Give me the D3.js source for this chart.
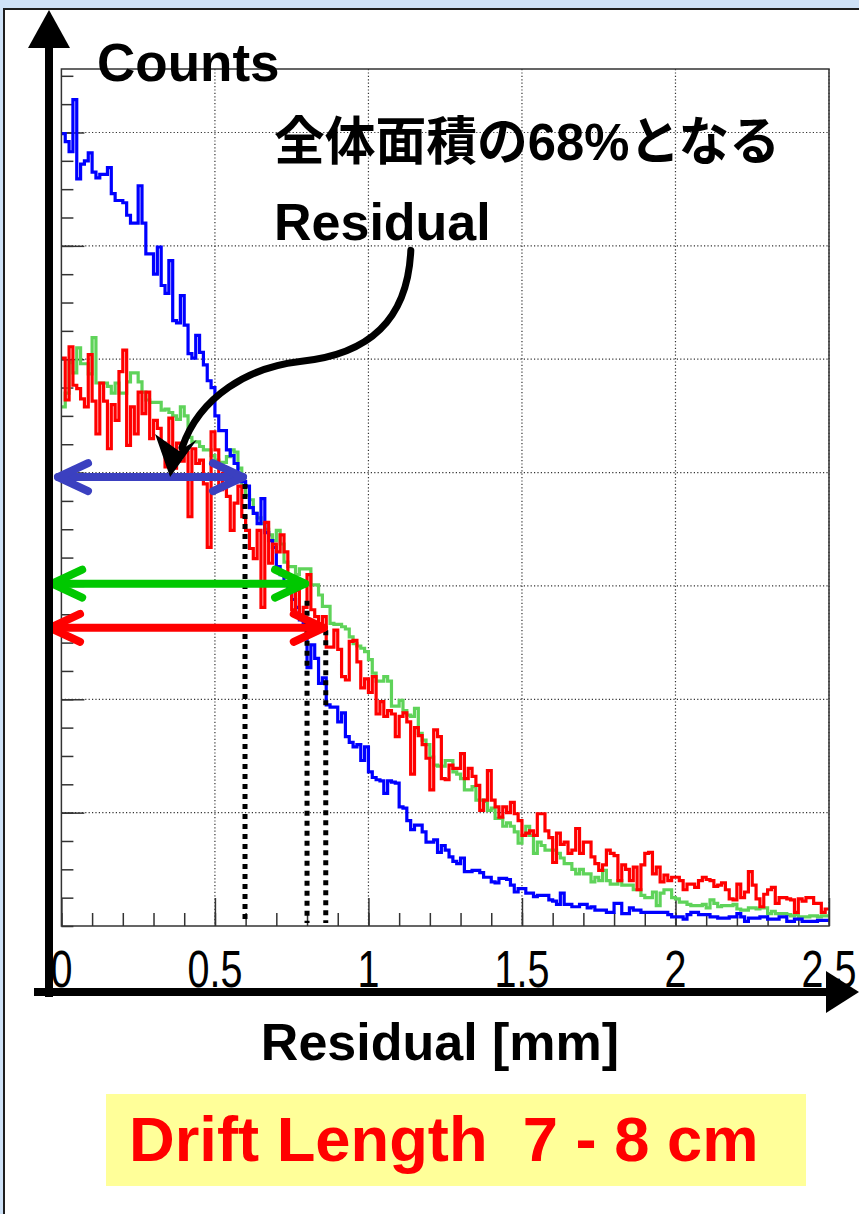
<!DOCTYPE html>
<html><head><meta charset="utf-8">
<script src="https://cdn.jsdelivr.net/npm/d3@7"></script>
<style>html,body{margin:0;padding:0;background:#fff;} svg{display:block;}</style>
</head><body>
<svg id="c" width="859" height="1214"></svg>
<script>
// ---------------- data ----------------
const binWidth = 0.0125;            // mm per bin (200 bins over 0 - 2.5 mm)
const xDomain = [0, 2.5];
const yDomain = [0, 756];
const xMajorTicks = [0, 0.5, 1, 1.5, 2, 2.5];
const xTickLabels = ["0", "0.5", "1", "1.5", "2", "2.5"];
const yGridValues = [100, 200, 300, 400, 500, 600, 700];

const blueCounts = [
 699,692,683,729,659,672,675,682,665,660,
 663,663,669,646,640,640,638,627,620,620,
 653,620,593,593,575,599,565,558,587,534,
 532,556,530,505,501,521,506,495,481,475,
 450,437,437,420,415,408,392,392,388,369,
 364,355,377,347,340,334,317,310,302,295,
 288,281,270,266,228,248,236,214,219,195,
 193,193,180,188,167,162,158,160,146,158,
 136,131,129,128,117,128,127,126,105,104,
 93,85,89,89,83,74,74,76,65,71,
 67,61,57,55,60,48,48,49,49,47,
 43,43,39,38,42,42,41,36,30,33,
 33,29,29,26,27,27,27,23,22,19,
 29,19,19,17,17,19,19,16,17,14,
 14,14,12,12,20,20,11,11,16,14,
 14,12,12,12,12,12,12,12,10,8,
 8,8,6,10,12,12,10,10,10,8,
 8,7,7,7,8,8,11,8,4,7,
 7,7,8,8,6,6,6,8,8,4,
 4,6,6,4,4,4,4,5,5,5
];
const greenCounts = [
 458,470,497,488,510,496,496,487,519,479,
 479,479,476,470,479,470,470,480,488,488,
 480,471,464,462,462,462,455,456,453,450,
 447,458,450,431,427,427,423,420,420,415,
 411,409,409,414,420,418,404,388,380,376,
 364,360,355,350,345,340,349,337,321,317,
 317,310,315,315,315,301,301,292,282,282,
 267,266,266,264,262,255,249,247,245,242,
 235,223,216,216,220,216,194,194,199,190,
 186,185,192,170,164,160,149,142,141,141,
 146,146,136,134,130,120,120,123,111,111,
 110,102,104,95,95,88,91,88,83,73,
 80,88,80,64,74,71,67,67,67,64,
 60,55,55,50,46,50,46,46,39,43,
 40,49,40,37,37,40,36,36,36,32,
 32,27,25,25,30,18,29,32,32,25,
 24,21,21,19,18,18,18,19,16,23,
 20,17,18,18,18,19,15,14,14,16,
 16,15,16,16,11,13,11,11,11,10,
 9,10,8,8,8,9,9,8,9,9
];
const redCounts = [
 501,464,511,477,474,465,458,504,463,434,
 479,463,421,460,446,489,508,424,458,434,
 471,452,471,430,446,439,426,405,448,404,
 426,410,418,361,421,408,411,390,334,436,
 420,385,399,379,349,373,388,361,349,333,
 324,349,281,356,320,337,330,345,330,308,
 279,296,273,281,310,279,273,264,273,246,
 246,261,244,220,217,251,252,233,210,218,
 206,220,187,198,185,190,187,167,185,188,
 180,134,175,168,160,148,120,173,167,130,
 129,142,139,139,152,130,139,132,124,102,
 111,137,111,105,96,105,100,109,99,93,
 80,82,84,80,99,99,84,78,56,82,
 72,74,64,67,86,64,74,74,61,55,
 49,54,67,64,62,40,54,50,40,52,
 32,54,64,65,46,52,39,45,40,43,
 43,40,32,37,37,34,40,43,41,40,
 35,36,38,32,24,23,37,25,30,48,
 36,24,17,28,32,34,20,25,25,24,
 23,12,24,22,25,25,20,20,12,15
];
// order: blue, green, red
const seriesNames = ["blue", "green", "red"];
const residual68 = [0.598, 0.800, 0.861];     // residual containing 68% of area (mm)
const arrowLevels = [396, 302, 263];          // counts level of the horizontal arrows
const arrowStarts = [-0.011, -0.030, -0.037]; // left end of arrows (mm)
const dotTops = [390, 287, 261];              // top of dotted marker lines (counts)
// curved annotation arrow (mm, counts)
const curvePts = [[1.138,596],[1.128,535],[1.004,504],[0.777,498],[0.614,493],[0.451,468],[0.393,422]];
const curveHead = [[0.354,396],[0.305,434],[0.383,419],[0.441,429]];

const yLabel = "Counts";
const xLabel = "Residual [mm]";
const noteCJK1 = "全体面積の", noteNum = "68%", noteCJK2 = "となる";
const note2 = "Residual";
const caption = "Drift Length  7 - 8 cm";

// ---------------- styles ----------------
const histColors = {blue: "#0000ff", green: "#5fd35a", red: "#ff0000"};
const arrowColors = {blue: "#3b40c0", green: "#00c800", red: "#ff0000"};
const sans = "'Liberation Sans', Arial, Helvetica, sans-serif";
const cjk = "'Noto Sans CJK JP', 'Noto Sans CJK SC', sans-serif";

const svg = d3.select("#c");
const X0 = 61.4, X1 = 829, Y0 = 926, Y1 = 69;
const x = d3.scaleLinear().domain(xDomain).range([X0, X1]);
const y = d3.scaleLinear().domain(yDomain).range([Y0, Y1]);

// page frame (slide border)
svg.append("rect").attr("x",0).attr("y",0).attr("width",859).attr("height",1214).attr("fill","#fff");
svg.append("rect").attr("x",0).attr("y",0).attr("width",859).attr("height",8).attr("fill","#cfe2f7");
svg.append("rect").attr("x",0).attr("y",0).attr("width",3).attr("height",1214).attr("fill","#cfe2f7");
svg.append("path").attr("d","M4,1214 V9 H859").attr("stroke","#1e1e1e").attr("stroke-width",2).attr("fill","none");

// grid
const grid = svg.append("g").attr("stroke","#333").attr("stroke-width",1.2).attr("stroke-dasharray","1.2,2.2");
grid.selectAll("line.v").data(xMajorTicks.filter(d=>d>0)).join("line")
  .attr("x1",d=>x(d)).attr("x2",d=>x(d)).attr("y1",Y1).attr("y2",Y0);
grid.selectAll("line.h").data(yGridValues).join("line")
  .attr("x1",X0).attr("x2",X1).attr("y1",d=>y(d)).attr("y2",d=>y(d));

// inward ticks via d3 axes
function styleAxis(g){ g.select(".domain").remove(); g.selectAll("text").remove();
  g.selectAll("line").attr("stroke","#333").attr("stroke-width",1.5); }
svg.append("g").attr("transform",`translate(0,${Y0})`)
  .call(d3.axisTop(x).tickValues(d3.range(0,25).map(i=>i/10)).tickSize(13).tickFormat("")).call(styleAxis);
svg.append("g").attr("transform",`translate(0,${Y0})`)
  .call(d3.axisTop(x).tickValues(xMajorTicks).tickSize(28).tickFormat("")).call(styleAxis);
svg.append("g").attr("transform",`translate(${X0},0)`)
  .call(d3.axisRight(y).tickValues(d3.range(0,31).map(i=>i*25)).tickSize(12).tickFormat("")).call(styleAxis);
svg.append("g").attr("transform",`translate(${X0},0)`)
  .call(d3.axisRight(y).tickValues(yGridValues).tickSize(23).tickFormat("")).call(styleAxis);

// histograms
const countsBySeries = {blue: blueCounts, green: greenCounts, red: redCounts};
function histPath(counts){
  const pts = counts.map((c,i)=>[i*binWidth, c]);
  pts.push([counts.length*binWidth, counts[counts.length-1]]);
  return d3.line().x(d=>x(d[0])).y(d=>y(d[1])).curve(d3.curveStepAfter)(pts);
}
["green","blue","red"].forEach(s=>{
  svg.append("path").attr("d",histPath(countsBySeries[s])).attr("fill","none")
    .attr("stroke",histColors[s]).attr("stroke-width",3.2).attr("stroke-linejoin","miter");
});

// frame of plot
svg.append("rect").attr("x",X0).attr("y",Y1).attr("width",X1-X0).attr("height",Y0-Y1)
  .attr("fill","none").attr("stroke","#333").attr("stroke-width",1.5);

// dotted 68% lines
svg.append("g").selectAll("line").data(residual68).join("line")
  .attr("x1",d=>x(d)).attr("x2",d=>x(d))
  .attr("y1",(d,i)=>y(dotTops[i])).attr("y2",Y0-3)
  .attr("stroke","#000").attr("stroke-width",5).attr("stroke-dasharray","5,5");

// double arrows
const arrG = svg.append("g").attr("fill","none").attr("stroke-linecap","round").attr("stroke-linejoin","round");
seriesNames.forEach((s,i)=>{
  const xa = x(arrowStarts[i]), xb = x(residual68[i]) - 2, yy = y(arrowLevels[i]);
  const c = arrowColors[s];
  arrG.append("path").attr("d",`M${xa},${yy} H${xb}`).attr("stroke",c).attr("stroke-width",8);
  arrG.append("path").attr("d",`M${xa+30},${yy-14} L${xa},${yy} L${xa+30},${yy+14}`).attr("stroke",c).attr("stroke-width",8);
  arrG.append("path").attr("d",`M${xb-30},${yy-14} L${xb},${yy} L${xb-30},${yy+14}`).attr("stroke",c).attr("stroke-width",8);
});

// curved annotation arrow
const cp = curvePts.map(p=>[x(p[0]), y(p[1])]);
svg.append("path")
  .attr("d",`M${cp[0]} C${cp[1]} ${cp[2]} ${cp[3]} C${cp[4]} ${cp[5]} ${cp[6]}`)
  .attr("fill","none").attr("stroke","#000").attr("stroke-width",7).attr("stroke-linecap","round");
svg.append("polygon").attr("points",curveHead.map(p=>[x(p[0]),y(p[1])].join(",")).join(" ")).attr("fill","#000");

// x tick labels (condensed)
svg.append("g").selectAll("text").data(xMajorTicks).join("text")
  .attr("transform",d=>`translate(${x(d)},987) scale(0.76,1)`)
  .attr("text-anchor","middle").attr("font-family",sans).attr("font-size",52).attr("fill","#000")
  .text((d,i)=>xTickLabels[i]);

// big axis arrows
svg.append("rect").attr("x",45).attr("y",44).attr("width",8).attr("height",953).attr("fill","#000");
svg.append("polygon").attr("points","49,10 28,48 70,48").attr("fill","#000");
svg.append("rect").attr("x",34).attr("y",988).attr("width",796).attr("height",8).attr("fill","#000");
svg.append("polygon").attr("points","859,992 826,971 826,1013").attr("fill","#000");

// texts
svg.append("text").attr("x",97).attr("y",81).attr("font-family",sans).attr("font-weight","bold")
  .attr("font-size",53).attr("fill","#000").text(yLabel);
const t1 = svg.append("text").attr("x",274).attr("y",160).attr("font-weight","bold")
  .attr("font-size",52).attr("fill","#000").attr("textLength",506).attr("lengthAdjust","spacingAndGlyphs");
t1.append("tspan").attr("font-family",cjk).text(noteCJK1);
t1.append("tspan").attr("font-family",sans).text(noteNum);
t1.append("tspan").attr("font-family",cjk).text(noteCJK2);
svg.append("text").attr("x",274).attr("y",240).attr("font-family",sans).attr("font-weight","bold")
  .attr("font-size",52).attr("fill","#000").text(note2);
svg.append("text").attr("x",440).attr("y",1060).attr("text-anchor","middle").attr("font-family",sans)
  .attr("font-weight","bold").attr("font-size",52).attr("fill","#000").text(xLabel);

// caption box
svg.append("rect").attr("x",106).attr("y",1094).attr("width",700).attr("height",92).attr("fill","#ffff99");
svg.append("text").attr("x",129).attr("y",1161).attr("font-family",sans).attr("font-weight","bold")
  .attr("font-size",63.3).attr("fill","#ff0000").style("white-space","pre").attr("xml:space","preserve")
  .text(caption);
</script>
</body></html>
